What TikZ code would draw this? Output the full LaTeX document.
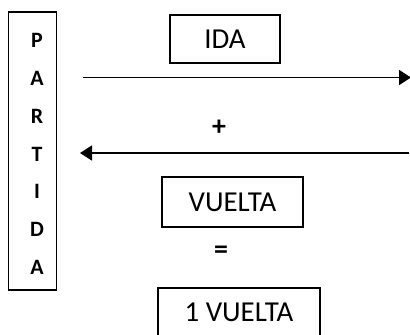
\documentclass[tikz,border=0pt]{standalone}
\usepackage{fontspec}
\setmainfont{Carlito}
\usetikzlibrary{arrows.meta}
\tikzset{
  framebox/.style={draw, line width=1.5bp, inner sep=0pt, font=\fontsize{29}{30}\selectfont},
  sign/.style={font=\bfseries\fontsize{28}{30}\selectfont, inner sep=0pt},
  flow/.style={line width=1.7bp, -{Triangle[length=12bp,width=15bp]}}
}
\begin{document}
\begin{tikzpicture}[x=1bp,y=-1bp]
  \useasboundingbox (0,0) rectangle (410,335);
  % vertical start box and its stacked letters
  \node[draw, line width=1.5bp, inner sep=0pt, minimum width=48bp, minimum height=278bp]
    (partida) at (32.5,151) {};
  \node[align=center, inner sep=0pt, font=\bfseries\fontsize{22}{38}\selectfont]
    (partidaText) at (37,154) {P\\A\\R\\T\\I\\D\\A};
  % outbound and return legs
  \node[framebox, minimum width=110bp, minimum height=48bp] (ida) at (225,39) {IDA};
  \coordinate (goS) at (83,77.5);
  \coordinate (goE) at (411,77.5);
  \draw[flow] (goS) -- (goE);
  \node[sign] (plus) at (219,127.5) {+};
  \coordinate (backS) at (409,153);
  \coordinate (backE) at (80,153);
  \draw[flow] (backS) -- (backE);
  \node[framebox, minimum width=141bp, minimum height=50bp] (vuelta) at (232.5,202) {VUELTA};
  \node[sign] (equals) at (221,252.5) {=};
  \node[framebox, minimum width=162bp, minimum height=48bp] (total) at (239,312) {1 VUELTA};
\end{tikzpicture}
\end{document}
